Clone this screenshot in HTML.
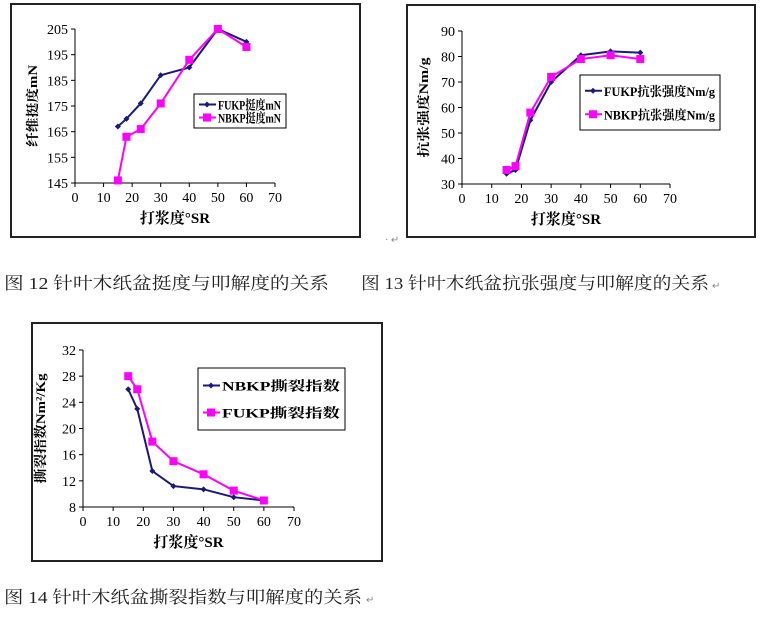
<!DOCTYPE html>
<html><head><meta charset="utf-8"><style>
html,body{margin:0;padding:0;background:#fff;}
svg{display:block;font-family:"Liberation Serif","Noto Serif CJK SC",serif;}
</style></head><body>
<svg id="s" width="770" height="620" viewBox="0 0 770 620" xmlns="http://www.w3.org/2000/svg">
<text x="4" y="289" font-size="17" textLength="325" lengthAdjust="spacingAndGlyphs" fill="#222">图 12 针叶木纸盆挺度与叩解度的关系</text>
<text x="361" y="289" font-size="17" textLength="348" lengthAdjust="spacingAndGlyphs" fill="#222">图 13 针叶木纸盆抗张强度与叩解度的关系</text>
<text x="712" y="289" font-size="10" fill="#888">↵</text>
<text x="4" y="603" font-size="17" textLength="358" lengthAdjust="spacingAndGlyphs" fill="#222">图 14 针叶木纸盆撕裂指数与叩解度的关系</text>
<text x="366" y="603" font-size="10" fill="#888">↵</text>
<text x="385" y="243" font-size="10" fill="#888">· ↵</text>
</svg>
<script>
const xTicks=[0,10,20,30,40,50,60,70];
const xVals=[15,18,23,30,40,50,60];
const c1Fukp=[167,170,176,187,190,205,200];
const c1Nbkp=[146,163,166,176,193,205,198];
const c1YTicks=[145,155,165,175,185,195,205];
const c2Fukp=[34,35.5,55,70,80.5,82,81.5];
const c2Nbkp=[35.5,37,58,72,79,80.5,79];
const c2YTicks=[30,40,50,60,70,80,90];
const c3Nbkp=[26,23,13.5,11.2,10.7,9.5,9];
const c3Fukp=[28,26,18,15,13,10.5,9];
const c3YTicks=[8,12,16,20,24,28,32];

const NS='http://www.w3.org/2000/svg';
const svg=document.getElementById('s');
function mk(tag,attrs,parent){const e=document.createElementNS(NS,tag);for(const k in attrs)e.setAttribute(k,attrs[k]);(parent||svg).appendChild(e);return e;}
const NAVY='#1a1a7a',MAG='#ff00ff';
function marker(g,type,x,y,color){
  if(type==='d'){const m=mk('path',{d:`M${x} ${y-3}L${x+3} ${y}L${x} ${y+3}L${x-3} ${y}Z`,fill:color},g);}
  else{const m=mk('rect',{x:x-4,y:y-4,width:8,height:8,fill:color},g);}
}
function chart(o){
  const g=mk('g',{});
  
  
  const fr=mk('rect',{x:o.fx,y:o.fy,width:o.fw,height:o.fh,fill:'#fff',stroke:'#222','stroke-width':2},g);
  
  const yMin=o.yt[0],yMax=o.yt[o.yt.length-1];
  const X=v=>o.x0+(v-0)/70*(o.x1-o.x0);
  const Y=v=>o.y1+(v-yMin)/(yMax-yMin)*(o.y0-o.y1);
  const ax=mk('path',{d:`M${X(0)} ${Y(yMax)}V${Y(yMin)}H${X(70)}`,stroke:'#000','stroke-width':1,fill:'none'},g);
  
  o.yt.forEach(t=>{
    mk('line',{x1:X(0)-4,x2:X(0),y1:Y(t),y2:Y(t),stroke:'#000'},g);
    const tx=mk('text',{x:X(0)-7,y:Y(t)+5,'text-anchor':'end','font-size':14,fill:'#000'},g);
    tx.textContent=t;
  });
  xTicks.forEach(t=>{
    mk('line',{x1:X(t),x2:X(t),y1:Y(yMin),y2:Y(yMin)+4,stroke:'#000'},g);
    const tx=mk('text',{x:X(t),y:Y(yMin)+19,'text-anchor':'middle','font-size':14,fill:'#000'},g);
    tx.textContent=t;
  });
  const xt=mk('text',{x:(X(0)+X(70))/2,y:Y(yMin)+40,'text-anchor':'middle','font-size':15,'font-weight':'bold',fill:'#000'},g);
  xt.textContent='打浆度°SR';
  const cy=(Y(yMin)+Y(yMax))/2, cx=X(0)-o.yoff;
  const yt=mk('text',{x:cx,y:cy,'text-anchor':'middle','font-size':13,'font-weight':'bold',fill:'#000',transform:`rotate(-90 ${cx} ${cy})`,textLength:o.ytl,lengthAdjust:'spacingAndGlyphs'},g);
  yt.textContent=o.ytitle;
  o.series.forEach(s=>{
    const pts=xVals.map((v,i)=>X(v)+','+Y(s.data[i])).join(' ');
    const pl=mk('polyline',{points:pts,fill:'none',stroke:s.color,'stroke-width':2},g);
    
    xVals.forEach((v,i)=>marker(g,s.m,X(v),Y(s.data[i]),s.color));
  });
  const lg=mk('rect',{x:o.lx,y:o.ly,width:o.lw,height:o.lh,fill:'#fff',stroke:'#000'},g);
  
  o.series.forEach((s,i)=>{
    const yy=o.ly+o.lh*(i+0.5)/o.series.length+ (i===0?1:-1)*2;
    mk('line',{x1:o.lx+5,x2:o.lx+22,y1:yy,y2:yy,stroke:s.color,'stroke-width':2},g);
    marker(g,s.m,o.lx+13,yy,s.color);
    const t=mk('text',{x:o.lx+24,y:yy+5,'font-size':13,'font-weight':'bold',fill:'#000',textLength:o.lw-29,lengthAdjust:'spacingAndGlyphs'},g);
    t.textContent=s.label;
  });
}
chart({name:'chart-stiffness',fx:11,fy:4,fw:349,fh:233,x0:75,x1:275,y0:29,y1:183,yt:c1YTicks,ytitle:'纤维挺度mN',yoff:38,ytl:82,
  lx:194,ly:94,lw:92,lh:34,
  series:[{label:'FUKP挺度mN',data:c1Fukp,color:NAVY,m:'d'},{label:'NBKP挺度mN',data:c1Nbkp,color:MAG,m:'s'}]});
chart({name:'chart-tensile',fx:407,fy:5,fw:348,fh:232,x0:462,x1:670,y0:31,y1:184,yt:c2YTicks,ytitle:'抗张强度Nm/g',yoff:34,ytl:100,
  lx:580,ly:75,lw:140,lh:55,
  series:[{label:'FUKP抗张强度Nm/g',data:c2Fukp,color:NAVY,m:'d'},{label:'NBKP抗张强度Nm/g',data:c2Nbkp,color:MAG,m:'s'}]});
chart({name:'chart-tear',fx:32,fy:323,fw:350,fh:238,x0:83,x1:294,y0:350,y1:507,yt:c3YTicks,ytitle:'撕裂指数Nm²/Kg',yoff:38,ytl:110,
  lx:198,ly:368,lw:147,lh:62,
  series:[{label:'NBKP撕裂指数',data:c3Nbkp,color:NAVY,m:'d'},{label:'FUKP撕裂指数',data:c3Fukp,color:MAG,m:'s'}]});
</script>
</body></html>
